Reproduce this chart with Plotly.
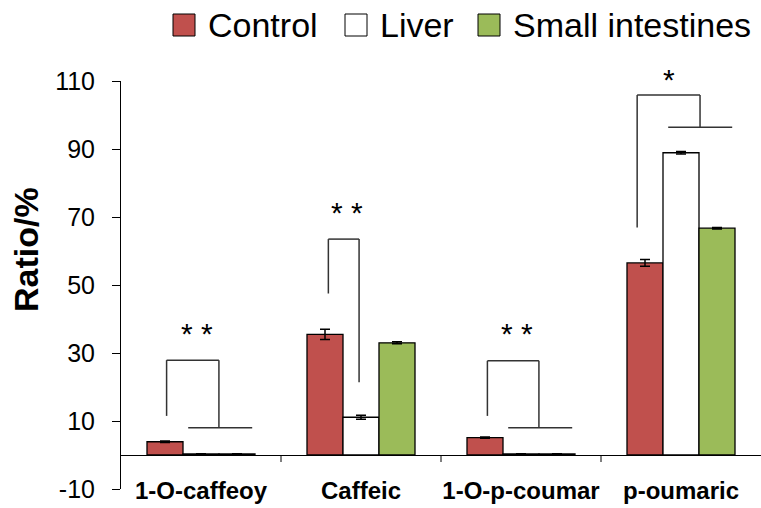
import plotly.graph_objects as go

# ---- data ----
categories = ["1-O-caffeoy", "Caffeic", "1-O-p-coumar", "p-oumaric"]
series_names = ["Control", "Liver", "Small intestines"]
control = [3.9, 35.5, 5.1, 56.5]
liver = [0.3, 11.1, 0.3, 88.9]
small_int = [0.3, 33.0, 0.3, 66.7]
control_err = [0.2, 1.5, 0.2, 1.0]
liver_err = [0.1, 0.6, 0.1, 0.4]
small_err = [0.1, 0.3, 0.1, 0.2]
y_ticks = [-10, 10, 30, 50, 70, 90, 110]
y_tick_text = ["-10", "10", "30", "50", "70", "90", "110"]

# significance annotations (data units)
sig_labels = ["* *", "* *", "* *", "*"]
sig_top = [27.9, 63.5, 27.7, 105.9]
sig_left_x = [-0.215, -0.204, -0.21, -0.274]
sig_left_bottom = [11.5, 47.5, 11.5, 66.9]
sig_right_x = [0.112, -0.012, 0.112, 0.119]
sig_right_bottom = [8.0, 21.4, 8.0, 96.4]
sig_has_base = [True, False, True, True]
sig_base_span = [-0.08, 0.32]
sig_text_x = [-0.027, -0.09, -0.025, -0.073]
sig_text_y = [37.4, 73.0, 37.4, 112.2]

colors = ["#C0504D", "#FFFFFF", "#9BBB59"]
FONT = "Liberation Sans, Arial, sans-serif"

W, H = 761, 508
ML, MR, MT, MB = 121, 0, 81, 19
PW, PH = W - ML - MR, H - MT - MB
Y_RANGE = [-10, 110]


def px_to_paper_x(px):
    return (px - ML) / PW


def px_to_paper_y(py):
    return (H - MB - py) / PH


def data_to_paper_y(v):
    return (v - Y_RANGE[0]) / (Y_RANGE[1] - Y_RANGE[0])


fig = go.Figure()
xidx = list(range(len(categories)))
for name, vals, errs, col in zip(series_names, [control, liver, small_int],
                                 [control_err, liver_err, small_err], colors):
    fig.add_trace(go.Bar(
        name=name, x=xidx, y=vals,
        marker=dict(color=col, line=dict(color="black", width=1.3)),
        error_y=dict(type="data", array=errs, color="black", thickness=1.5, width=5),
        showlegend=False,
    ))

shapes = []
for i in xidx:
    lx = i + sig_left_x[i]
    rx = i + sig_right_x[i]
    line = dict(color="#333333", width=1.5)
    shapes.append(dict(type="line", xref="x", yref="y", x0=lx, x1=lx,
                       y0=sig_left_bottom[i], y1=sig_top[i], line=line))
    shapes.append(dict(type="line", xref="x", yref="y", x0=lx, x1=rx,
                       y0=sig_top[i], y1=sig_top[i], line=line))
    shapes.append(dict(type="line", xref="x", yref="y", x0=rx, x1=rx,
                       y0=sig_top[i], y1=sig_right_bottom[i], line=line))
    if sig_has_base[i]:
        shapes.append(dict(type="line", xref="x", yref="y",
                           x0=i + sig_base_span[0], x1=i + sig_base_span[1],
                           y0=sig_right_bottom[i], y1=sig_right_bottom[i], line=line))
# category separator ticks on the zero line
for i in xidx[:-1]:
    shapes.append(dict(type="line", xref="x", yref="y", ysizemode="pixel", yanchor=0,
                       x0=i + 0.5, x1=i + 0.5, y0=0, y1=-7,
                       line=dict(color="black", width=1)))

annotations = []
for i in xidx:
    annotations.append(dict(x=i + sig_text_x[i], y=data_to_paper_y(sig_text_y[i] - 1.8),
                            xref="x", yref="paper", xanchor="center", yanchor="middle",
                            text=sig_labels[i], showarrow=False,
                            font=dict(family=FONT, size=30, color="black")))
annotations.append(dict(x=px_to_paper_x(26), y=px_to_paper_y(250), xref="paper", yref="paper",
                        xanchor="center", yanchor="middle", text="Ratio/%",
                        textangle=-90, showarrow=False,
                        font=dict(family=FONT, size=34, color="black", weight="bold")))

# custom legend (large swatches as in the original)
legend_sq_left = [173, 345, 478]
legend_sq_size = 22
legend_top = 14
for name, col, sx in zip(series_names, colors, legend_sq_left):
    shapes.append(dict(type="rect", xref="paper", yref="paper",
                       x0=px_to_paper_x(sx), x1=px_to_paper_x(sx + legend_sq_size),
                       y0=px_to_paper_y(legend_top + legend_sq_size), y1=px_to_paper_y(legend_top),
                       fillcolor=col, line=dict(color="black", width=1)))
    annotations.append(dict(x=px_to_paper_x(sx + legend_sq_size + 11), y=px_to_paper_y(legend_top + legend_sq_size / 2),
                            xref="paper", yref="paper", xanchor="left", yanchor="middle",
                            text=name, showarrow=False,
                            font=dict(family=FONT, size=34, color="black")))

fig.update_layout(
    width=W, height=H,
    margin=dict(l=ML, r=MR, t=MT, b=MB, autoexpand=False),
    paper_bgcolor="white", plot_bgcolor="white",
    barmode="group", bargap=0.325, bargroupgap=0,
    font=dict(family=FONT, color="black"),
    showlegend=False,
    shapes=shapes, annotations=annotations,
    xaxis=dict(range=[-0.5, 3.5], tickvals=xidx, ticktext=categories,
               showline=False, showgrid=False, zeroline=False, ticks="",
               automargin=False, ticklabelstandoff=-15,
               tickfont=dict(family=FONT, size=24, weight="bold")),
    yaxis=dict(range=Y_RANGE, tickvals=y_ticks, ticktext=y_tick_text, showline=True,
               linecolor="black", linewidth=1, ticks="outside", ticklen=8, tickcolor="black",
               showgrid=False, zeroline=True, zerolinecolor="black", zerolinewidth=1,
               automargin=False, ticklabelstandoff=12,
               tickfont=dict(family=FONT, size=25)),
)

fig.write_html("out.html")
